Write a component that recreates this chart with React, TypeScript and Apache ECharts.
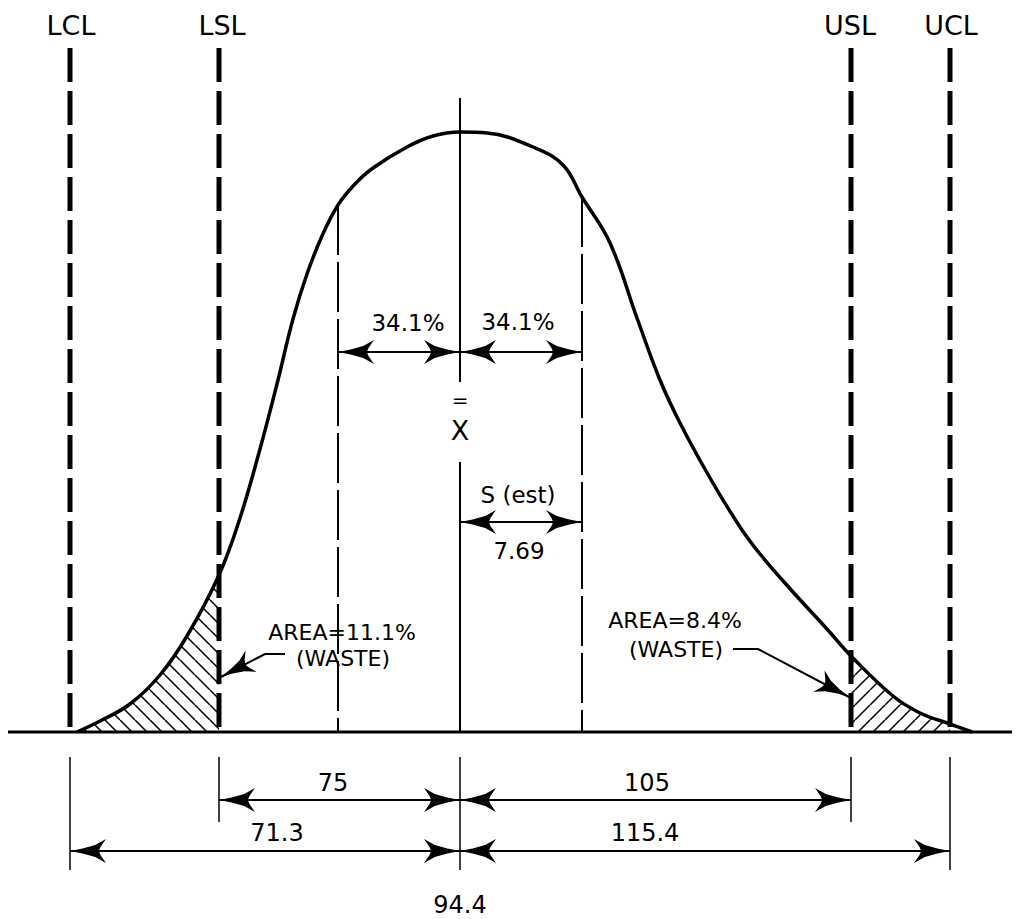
import React, { useEffect, useRef } from "react";
import * as echarts from "echarts";

// ---- data ----
const limitNames = ["LCL", "LSL", "USL", "UCL"];
const limitValues = [71.3, 75, 105, 115.4];
const limitPos = [70, 219, 851, 950]; // schematic positions on the drawing's x scale
const meanValue = 94.4;
const meanPos = 460;
const sigmaValue = 7.69;
const sigmaPct = 34.1;
const sigmaPos = [338, 582];
const wastePct = [11.1, 8.4];

// distribution curve (schematic x, height above baseline)
const curveX = [77, 100, 130, 160, 187, 219, 240, 260, 277, 293, 307, 322, 338, 355, 373, 407, 433, 460, 487, 533, 563, 582, 610, 637, 660, 680, 710, 740, 760, 793, 827, 851, 893, 920, 950, 972];
const curveY = [0, 11, 28, 57, 96, 157, 214, 283, 348, 413, 458, 496, 527, 548, 564, 585, 596, 600, 599, 585, 567, 535, 489, 414, 352, 309, 254, 205, 178, 140, 103, 76, 36, 19, 8, 0];

const FONT = "DejaVu Sans";

function hatch(dir: "back" | "fwd") {
  const s = 15;
  const c = document.createElement("canvas");
  c.width = s;
  c.height = s;
  const ctx = c.getContext("2d")!;
  ctx.strokeStyle = "#000";
  ctx.lineWidth = 1.5;
  ctx.beginPath();
  for (const off of [-s, 0, s]) {
    if (dir === "back") {
      ctx.moveTo(off, 0);
      ctx.lineTo(off + s, s);
    } else {
      ctx.moveTo(off, s);
      ctx.lineTo(off + s, 0);
    }
  }
  ctx.stroke();
  return { image: c, repeat: "repeat", imageWidth: s, imageHeight: s } as any;
}

function headPolygon(tip: number[], from: number[], L: number, W: number) {
  const dx = tip[0] - from[0];
  const dy = tip[1] - from[1];
  const len = Math.hypot(dx, dy) || 1;
  const ux = dx / len, uy = dy / len;
  const nx = -uy, ny = ux;
  const pt = (a: number, b: number) => [tip[0] - ux * a * L + nx * b * W, tip[1] - uy * a * L + ny * b * W];
  return {
    type: "polygon",
    shape: {
      points: [pt(0, 0), pt(0.35, 0.2), pt(0.7, 0.5), pt(1, 1), pt(0.85, 0.35), pt(0.8, 0), pt(0.85, -0.35), pt(1, -1), pt(0.7, -0.5), pt(0.35, -0.2)],
    },
    style: { fill: "#000", stroke: null },
  };
}

export default function App() {
  const ref = useRef<HTMLDivElement>(null);

  useEffect(() => {
    if (!ref.current) return;
    const chart = echarts.init(ref.current, null, { renderer: "svg" });

    const curve = curveX.map((x, i) => [x, curveY[i]]);
    const leftTail = curve.filter((p) => p[0] <= limitPos[1]);
    const rightTail = curve.filter((p) => p[0] >= limitPos[2] && p[0] <= limitPos[3]);
    const heightAt = (x: number) => curveY[curveX.indexOf(x)];

    // straight guide segments
    type Seg = { x1: number; y1: number; x2: number; y2: number; w: number; dash?: number[] };
    const segs: Seg[] = [];
    limitPos.forEach((p) => segs.push({ x1: p, y1: 684, x2: p, y2: 0, w: 5, dash: [34, 9] }));
    sigmaPos.forEach((p) => segs.push({ x1: p, y1: heightAt(p), x2: p, y2: 0, w: 2, dash: [50, 7] }));
    segs.push({ x1: meanPos, y1: 634, x2: meanPos, y2: 350, w: 2 });
    segs.push({ x1: meanPos, y1: 270, x2: meanPos, y2: 0, w: 2 });
    segs.push({ x1: 8, y1: 0, x2: 1012, y2: 0, w: 3 });
    limitPos.forEach((p, i) =>
      segs.push({ x1: p, y1: -25, x2: p, y2: i === 0 || i === 3 ? -138 : -90, w: 1.5 })
    );
    segs.push({ x1: meanPos, y1: -25, x2: meanPos, y2: -138, w: 1.5 });

    // dimension arrows (arrowheads at both ends)
    const dims = [
      [sigmaPos[0], 380, meanPos, 380],
      [meanPos, 380, sigmaPos[1], 380],
      [meanPos, 210, sigmaPos[1], 210],
      [limitPos[1], -68, meanPos, -68],
      [meanPos, -68, limitPos[2], -68],
      [limitPos[0], -119, meanPos, -119],
      [meanPos, -119, limitPos[3], -119],
    ];

    // leader arrows (arrowhead at the end)
    const leaders = [
      [[285, 78], [265, 78], [221, 55]],
      [[733, 83], [758, 83], [849, 35]],
    ];

    const texts: { x: number; y: number; t: string; s: number }[] = [
      { x: 71, y: 707, t: limitNames[0], s: 27 },
      { x: 222, y: 707, t: limitNames[1], s: 27 },
      { x: 850, y: 707, t: limitNames[2], s: 27 },
      { x: 951, y: 707, t: limitNames[3], s: 27 },
      { x: 408, y: 409, t: `${sigmaPct}%`, s: 23 },
      { x: 518, y: 410, t: `${sigmaPct}%`, s: 23 },
      { x: 460, y: 332, t: "=", s: 20 },
      { x: 460, y: 302, t: "X", s: 27 },
      { x: 518, y: 237, t: "S (est)", s: 23 },
      { x: 519, y: 181, t: `${sigmaValue}`, s: 23 },
      { x: 342, y: 100, t: `AREA=${wastePct[0]}%`, s: 22 },
      { x: 343, y: 74, t: "(WASTE)", s: 22 },
      { x: 675, y: 112, t: `AREA=${wastePct[1]}%`, s: 22 },
      { x: 676, y: 83, t: "(WASTE)", s: 22 },
      { x: 333, y: -51, t: `${limitValues[1]}`, s: 24 },
      { x: 647, y: -51, t: `${limitValues[2]}`, s: 24 },
      { x: 277, y: -101, t: `${limitValues[0]}`, s: 24 },
      { x: 645, y: -101, t: `${limitValues[3]}`, s: 24 },
      { x: meanPos, y: -173, t: `${meanValue}`, s: 24 },
    ];

    const option: any = {
      animation: false,
      backgroundColor: "#fff",
      grid: { left: 0, right: 0, top: 0, bottom: 0, containLabel: false },
      xAxis: { type: "value", min: 0, max: 1018, show: false },
      yAxis: { type: "value", min: -187, max: 732, show: false },
      series: [
        {
          type: "line",
          data: leftTail,
          smooth: 0.4,
          symbol: "none",
          lineStyle: { width: 0 },
          areaStyle: { color: hatch("back"), opacity: 1 },
          z: 1,
        },
        {
          type: "line",
          data: rightTail,
          smooth: 0.4,
          symbol: "none",
          lineStyle: { width: 0 },
          areaStyle: { color: hatch("fwd"), opacity: 1 },
          z: 1,
        },
        {
          type: "custom",
          coordinateSystem: "cartesian2d",
          clip: false,
          z: 2,
          data: segs.map((s) => [s.x1, s.y1, s.x2, s.y2]),
          encode: { x: [0, 2], y: [1, 3] },
          renderItem: (params: any, api: any) => {
            const s = segs[params.dataIndex];
            const a = api.coord([s.x1, s.y1]);
            const b = api.coord([s.x2, s.y2]);
            return {
              type: "line",
              shape: { x1: a[0], y1: a[1], x2: b[0], y2: b[1] },
              style: { stroke: "#000", lineWidth: s.w, lineDash: s.dash || null, fill: null },
            };
          },
        },
        {
          type: "line",
          data: curve,
          smooth: 0.4,
          symbol: "none",
          lineStyle: { color: "#000", width: 3.5 },
          z: 3,
        },
        {
          type: "custom",
          coordinateSystem: "cartesian2d",
          clip: false,
          z: 4,
          data: dims,
          encode: { x: [0, 2], y: [1, 3] },
          renderItem: (params: any, api: any) => {
            const d = dims[params.dataIndex];
            const a = api.coord([d[0], d[1]]);
            const b = api.coord([d[2], d[3]]);
            return {
              type: "group",
              children: [
                {
                  type: "line",
                  shape: { x1: a[0], y1: a[1], x2: b[0], y2: b[1] },
                  style: { stroke: "#000", lineWidth: 2 },
                },
                headPolygon(a, b, 36, 12),
                headPolygon(b, a, 36, 12),
              ],
            };
          },
        },
        {
          type: "custom",
          coordinateSystem: "cartesian2d",
          clip: false,
          z: 4,
          data: leaders.map((l) => [l[0][0], l[0][1]]),
          renderItem: (params: any, api: any) => {
            const pts = leaders[params.dataIndex].map((p) => api.coord(p));
            const n = pts.length;
            return {
              type: "group",
              children: [
                { type: "polyline", shape: { points: pts }, style: { stroke: "#000", lineWidth: 2, fill: null } },
                headPolygon(pts[n - 1], pts[n - 2], 34, 12),
              ],
            };
          },
        },
        {
          type: "custom",
          coordinateSystem: "cartesian2d",
          clip: false,
          z: 5,
          data: texts.map((t) => [t.x, t.y]),
          renderItem: (params: any, api: any) => {
            const t = texts[params.dataIndex];
            const p = api.coord([t.x, t.y]);
            return {
              type: "text",
              x: p[0],
              y: p[1],
              style: {
                text: t.t,
                fill: "#000",
                fontSize: t.s,
                fontFamily: FONT,
                align: "center",
                verticalAlign: "middle",
              },
            };
          },
        },
      ],
    };

    chart.setOption(option);
    return () => chart.dispose();
  }, []);

  return (
    <div
      ref={ref}
      style={{ position: "absolute", left: 0, top: 0, width: 1018, height: 919, background: "#fff" }}
    />
  );
}
